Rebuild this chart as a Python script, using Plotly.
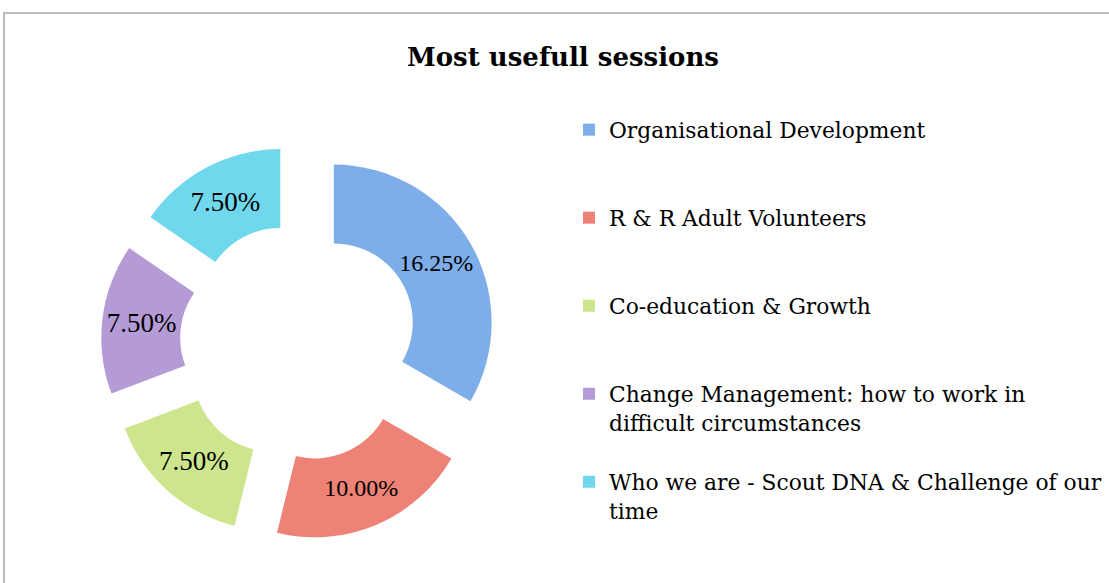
import plotly.graph_objects as go

categories = [
    "Organisational Development",
    "R & R Adult Volunteers",
    "Co-education & Growth",
    "Change Management: how to work in<br>difficult circumstances",
    "Who we are - Scout DNA & Challenge of our<br>time",
]
values = [16.25, 10.00, 7.50, 7.50, 7.50]
colors = ["#7EAEE9", "#EE8276", "#CDE58C", "#B49BD6", "#70D8EC"]

W, H = 1109, 583
FONT = "DejaVu Serif"
LABEL_FONT = "Liberation Serif"
# largest label size that still fits unscaled in each ring sector
label_sizes = [24, 24, 27, 27, 27]

# pad legend entries so each takes three lines (matches the wide spacing)
legend_labels = []
for c in categories:
    n = c.count("<br>") + 1
    legend_labels.append(c + "<br> " * (3 - n))

fig = go.Figure(
    go.Pie(
        labels=legend_labels,
        values=values,
        hole=0.5,
        sort=False,
        direction="clockwise",
        rotation=0,
        pull=[0.255] * 5,
        marker=dict(colors=colors, line=dict(width=0)),
        texttemplate="%{value:.2f}%",
        textposition="inside",
        insidetextorientation="horizontal",
        textfont=dict(family=LABEL_FONT, size=label_sizes, color="black"),
        domain=dict(x=[101 / W, 497 / W], y=[1 - 540.5 / H, 1 - 144.5 / H]),
        hoverinfo="label+value",
    )
)

fig.update_layout(
    width=W,
    height=H,
    margin=dict(l=0, r=0, t=0, b=0),
    paper_bgcolor="white",
    plot_bgcolor="white",
    title=dict(
        text="<b>Most usefull sessions</b>",
        x=563 / W,
        xanchor="center",
        y=1 - 57 / H,
        yanchor="middle",
        font=dict(family=FONT, size=26, color="black"),
    ),
    legend=dict(
        x=569 / W,
        xanchor="left",
        y=1 - 109 / H,
        yanchor="top",
        valign="top",
        font=dict(family=FONT, size=21.8, color="black"),
        bgcolor="rgba(0,0,0,0)",
        traceorder="normal",
    ),
    shapes=[
        dict(
            type="rect",
            xref="paper",
            yref="paper",
            x0=4 / W,
            x1=1.05,
            y0=-0.05,
            y1=1 - 13 / H,
            line=dict(color="#A6A6A6", width=1.5),
        )
    ],
)

fig.write_html(
    "out.html",
    config={"displayModeBar": False},
    post_script="document.body.style.margin='0';",
)
